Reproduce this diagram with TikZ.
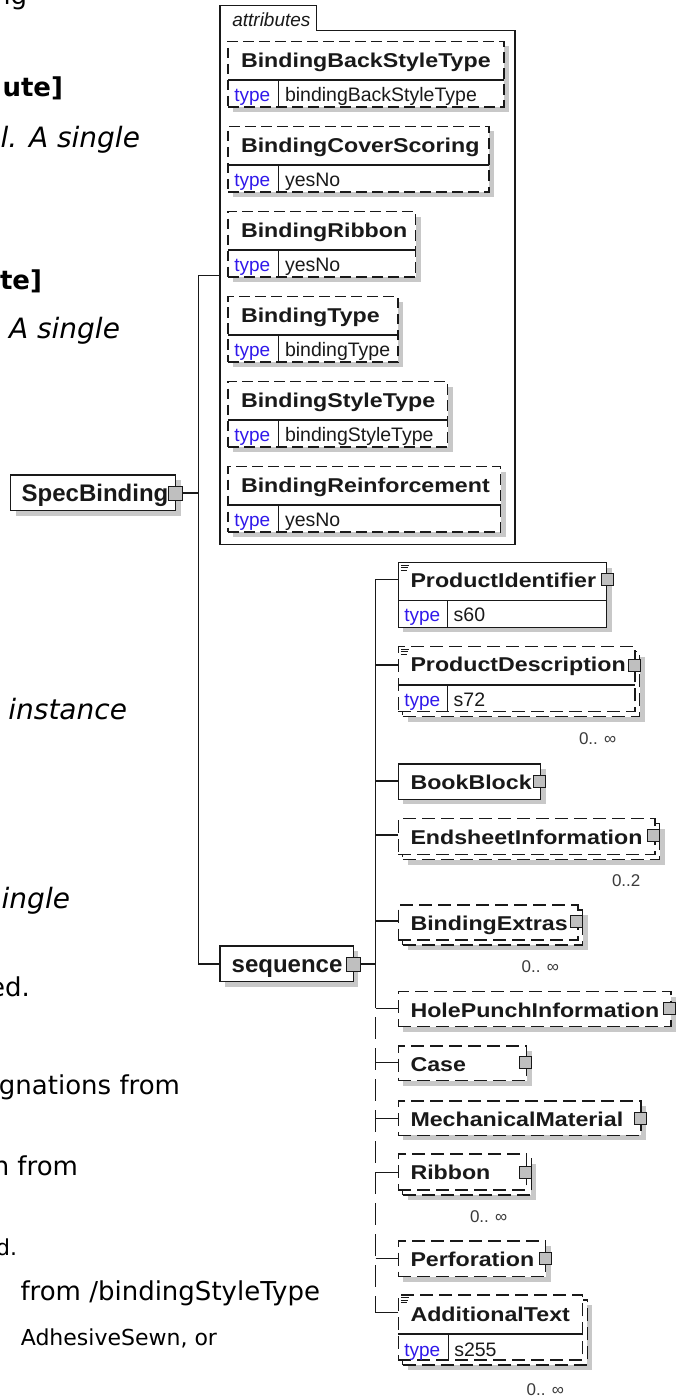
\documentclass[tikz,border=0pt]{standalone}
\usepackage{fontspec}
\setmainfont{Liberation Sans}
\newfontfamily\nmfont[FakeStretch=1.16]{Liberation Sans}
\newfontfamily\docfont{DejaVu Sans}
\usetikzlibrary{fit,shadows}
\definecolor{typeblue}{RGB}{48,24,235}
\definecolor{shadc}{RGB}{200,200,200}
\definecolor{ink}{RGB}{25,25,25}
\tikzset{
  every node/.style={inner sep=0pt, outer sep=0pt},
  sbox/.style={draw=ink, line width=1.1pt, fill=white, inner sep=0pt, outer sep=0pt},
  dbox/.style={sbox, dash pattern=on 13pt off 6pt},
  abox/.style={sbox, dash pattern=on 10.5pt off 5.5pt},
  shad/.style={drop shadow={shadow xshift=5pt, shadow yshift=-5pt, fill=shadc, opacity=1}},
  frame/.style={draw=ink, line width=1.2pt},
  nm/.style={anchor=base west, font=\nmfont\bfseries\fontsize{20}{24}\selectfont, text=ink},
  root/.style={anchor=base west, font=\bfseries\fontsize{24}{28}\selectfont, text=ink},
  tabl/.style={anchor=base west, font=\itshape\fontsize{19}{22}\selectfont, text=ink},
  tyl/.style={anchor=base west, font=\fontsize{19}{22}\selectfont, text=typeblue},
  tyv/.style={anchor=base west, font=\fontsize{19.5}{22}\selectfont, text=ink},
  mult/.style={anchor=base west, font=\fontsize{17}{20}\selectfont, text=ink!85},
  doc/.style={anchor=base east, font=\docfont\fontsize{26}{30}\selectfont, text=black},
  docb/.style={anchor=base east, font=\docfont\bfseries\fontsize{26}{30}\selectfont, text=black},
  doci/.style={anchor=base east, font=\docfont\itshape\fontsize{28}{32}\selectfont, text=black},
  docs/.style={anchor=base east, font=\docfont\fontsize{22}{26}\selectfont, text=black},
  btn/.style={draw=ink, fill=black!25, line width=1pt, minimum width=12pt, minimum height=12pt},
  rbtn/.style={btn, minimum width=14pt, minimum height=14pt},
  conn/.style={draw=ink, line width=1.1pt},
  dconn/.style={conn, dash pattern=on 22pt off 9pt},
  divl/.style={draw=ink, line width=1.1pt},
  icon/.style={draw=ink, line width=0.8pt}
}
\newcommand\attrbox[5]{%
  \node[abox, shad, fit={(228,#2) (#3,#2+65.5)}] (#1) {};
  \draw[divl] (228,#2+38.5) -- (#3,#2+38.5);
  \draw[divl] (278.3,#2+38.5) -- (278.3,#2+65.5);
  \node[nm] (#1-n) at (241,#2+25.8) {#4};
  \node[tyl] (#1-t) at (234.3,#2+59.8) {type};
  \node[tyv] (#1-v) at (285,#2+59.8) {#5};
}
\newcommand\docicon[2]{%
  \draw[icon] (#1+2.5,#2+2.7) -- (#1+11,#2+2.7);
  \draw[icon] (#1+2.5,#2+5.1) -- (#1+10,#2+5.1);
  \draw[icon] (#1+2.5,#2+7.5) -- (#1+9,#2+7.5);
}
\begin{document}
\begin{tikzpicture}[x=1pt,y=-1pt]
\useasboundingbox (0,0) rectangle (676,1399);
\fill[white] (0,0) rectangle (676,1399);

% ---- background document text fragments
\node[doc]  (d1)  at (27,5)     {ng};
\node[docb] (d2)  at (63,97)    {ute]};
\node[doci] (d3)  at (140,148)  {l. A single};
\node[docb] (d4)  at (42,289)   {te]};
\node[doci] (d5)  at (120,338)  {A single};
\node[doci] (d6)  at (127,719)  {instance};
\node[doci] (d7)  at (70,908)   {ingle};
\node[doc]  (d8)  at (30,996)   {ed.};
\node[doc]  (d9)  at (180,1094) {gnations from};
\node[doc]  (d10) at (78,1175)  {n from};
\node[docs] (d11) at (17,1255)  {d.};
\node[doc]  (d12) at (320,1300) {from /bindingStyleType};
\node[docs] (d13) at (217,1345) {AdhesiveSewn, or};

% ---- attributes frame
\node[fit={(220,30.4) (515,544.6)}] (attrs) {};
\draw[frame] (attrs.south west) -- (220,5.8) -- (316.7,5.8) -- (316.7,30.4)
  -- (attrs.north east) -- (attrs.south east) -- cycle;
\node[tabl] (attrs-l) at (232.3,26.7) {attributes};

\attrbox{a1}{41.5}{504}{BindingBackStyleType}{bindingBackStyleType}
\attrbox{a2}{126.5}{489}{BindingCoverScoring}{yesNo}
\attrbox{a3}{211.5}{415.7}{BindingRibbon}{yesNo}
\attrbox{a4}{296.5}{398}{BindingType}{bindingType}
\attrbox{a5}{381.5}{447.7}{BindingStyleType}{bindingStyleType}
\attrbox{a6}{466.5}{500.7}{BindingReinforcement}{yesNo}

% ---- root element
\node[sbox, shad, fit={(10.7,475) (175.7,510.7)}] (sb) {};
\node[root] (sb-n) at (21.7,501.7) {SpecBinding};
\node[rbtn] (sb-b) at (175.2,493) {};

% ---- sequence
\node[sbox, shad, fit={(220,946) (353.3,981.7)}] (seq) {};
\node[root] (seq-n) at (231.7,972.7) {sequence};
\node[rbtn] (seq-b) at (353,964) {};

% ---- connectors of root
\coordinate (a-j) at (198.3,275.4);
\coordinate (sb-j) at (198.3,493);
\coordinate (s-j) at (198.3,964);
\draw[conn] (attrs.west |- a-j) -- (a-j) -- (s-j) -- (seq.west |- s-j);
\draw[conn] (sb-b.east) -- (sb-j);

% ---- children of sequence
% ProductIdentifier
\node[sbox, shad, fit={(398.3,562.7) (606.7,627.3)}] (pi) {};
\draw[divl] (398.3,600.7) -- (606.7,600.7);
\draw[divl] (447.7,600.7) -- (447.7,627.3);
\docicon{398.3}{562.7}
\node[nm] (pi-n) at (410.5,587.5) {ProductIdentifier};
\node[btn] (pi-b) at (607,579.3) {};
\node[tyl] (pi-t) at (404.3,621.7) {type};
\node[tyv] (pi-v) at (453.7,621.7) {s60};

% ProductDescription
\node[dbox, shad, fit={(402.8,651.7) (639.5,716.7)}] (pd2) {};
\node[dbox, fit={(398.3,646.7) (635,711.7)}] (pd) {};
\draw[divl] (398.3,685) -- (635,685);
\draw[divl] (447.7,685) -- (447.7,711.7);
\docicon{398.3}{646.7}
\node[nm] (pd-n) at (410.5,671.7) {ProductDescription};
\node[btn] (pd-b) at (634,665) {};
\node[tyl] (pd-t) at (404.3,706.7) {type};
\node[tyv] (pd-v) at (453.7,706.7) {s72};
\node[mult] (pd-m) at (579,744) {0.. ∞};

% BookBlock
\node[sbox, shad, fit={(398.3,764) (540.7,799.3)}] (bb) {};
\node[nm] (bb-n) at (410.5,789.3) {BookBlock};
\node[btn] (bb-b) at (539,781) {};

% EndsheetInformation
\node[dbox, shad, fit={(402.8,823.5) (659.5,859.5)}] (esi2) {};
\node[dbox, fit={(398.3,818.5) (655,854.5)}] (esi) {};
\node[nm] (esi-n) at (410.5,844) {EndsheetInformation};
\node[btn] (esi-b) at (653,835) {};
\node[mult] (esi-m) at (612,886.5) {0..2};

% BindingExtras
\node[dbox, shad, fit={(402.8,910) (582.5,945)}] (be2) {};
\node[dbox, fit={(398.3,905) (578,940)}] (be) {};
\node[nm] (be-n) at (410.5,930.5) {BindingExtras};
\node[btn] (be-b) at (576.5,921) {};
\node[mult] (be-m) at (521.7,972.7) {0.. ∞};

% HolePunchInformation
\node[dbox, shad, fit={(398.3,991.7) (671,1026.7)}] (hpi) {};
\node[nm] (hpi-n) at (410.5,1017.5) {HolePunchInformation};
\node[btn] (hpi-b) at (669,1008.5) {};

% Case
\node[dbox, shad, fit={(398.3,1046) (526.7,1080.7)}] (cs) {};
\node[nm] (cs-n) at (410.5,1071) {Case};
\node[btn] (cs-b) at (525.3,1062.7) {};

% MechanicalMaterial
\node[dbox, shad, fit={(398.3,1101) (641,1135.3)}] (mm) {};
\node[nm] (mm-n) at (410.5,1126.3) {MechanicalMaterial};
\node[btn] (mm-b) at (640,1118.7) {};

% Ribbon
\node[dbox, shad, fit={(402.8,1159) (531.2,1195)}] (rb2) {};
\node[dbox, fit={(398.3,1154) (526.7,1190)}] (rb) {};
\node[nm] (rb-n) at (410.5,1179.5) {Ribbon};
\node[btn] (rb-b) at (525,1172.3) {};
\node[mult] (rb-m) at (470,1222.7) {0.. ∞};

% Perforation
\node[dbox, shad, fit={(398.3,1241) (545.7,1276.7)}] (pf) {};
\node[nm] (pf-n) at (410.5,1266.5) {Perforation};
\node[btn] (pf-b) at (545,1258.5) {};

% AdditionalText
\node[dbox, shad, fit={(402.8,1300) (587.2,1365)}] (at2) {};
\node[dbox, fit={(398.3,1295) (582.7,1360)}] (at) {};
\draw[divl] (398.3,1334) -- (582.7,1334);
\draw[divl] (448.3,1334) -- (448.3,1360);
\docicon{398.3}{1295}
\node[nm] (at-n) at (410.5,1321) {AdditionalText};
\node[tyl] (at-t) at (404.3,1356) {type};
\node[tyv] (at-v) at (454.3,1356) {s255};
\node[mult] (at-m) at (526.7,1395) {0.. ∞};

% ---- sequence connectors
\coordinate (c-pi) at (375.7,579.3);
\coordinate (c-pd) at (375.7,665);
\coordinate (c-bb) at (375.7,781);
\coordinate (c-esi) at (375.7,835);
\coordinate (c-be) at (375.7,921);
\coordinate (q-j) at (375.7,964);
\coordinate (q-m) at (375.7,986);
\coordinate (c-hpi) at (375.7,1008.3);
\coordinate (c-cs) at (375.7,1062.7);
\coordinate (c-mm) at (375.7,1118.7);
\coordinate (c-rb) at (375.7,1172.3);
\coordinate (c-pf) at (375.7,1258.3);
\coordinate (c-at) at (375.7,1312.7);
\draw[conn] (seq-b.east) -- (q-j);
\draw[conn] (c-pi) -- (q-m);
\draw[dconn] (q-m) -- (c-at);
\foreach \c/\n in {pi/pi, pd/pd, bb/bb, esi/esi, be/be, hpi/hpi, cs/cs, mm/mm, rb/rb, pf/pf, at/at}
  \draw[conn] (c-\c) -- (c-\c -| \n.west);
\end{tikzpicture}
\end{document}
